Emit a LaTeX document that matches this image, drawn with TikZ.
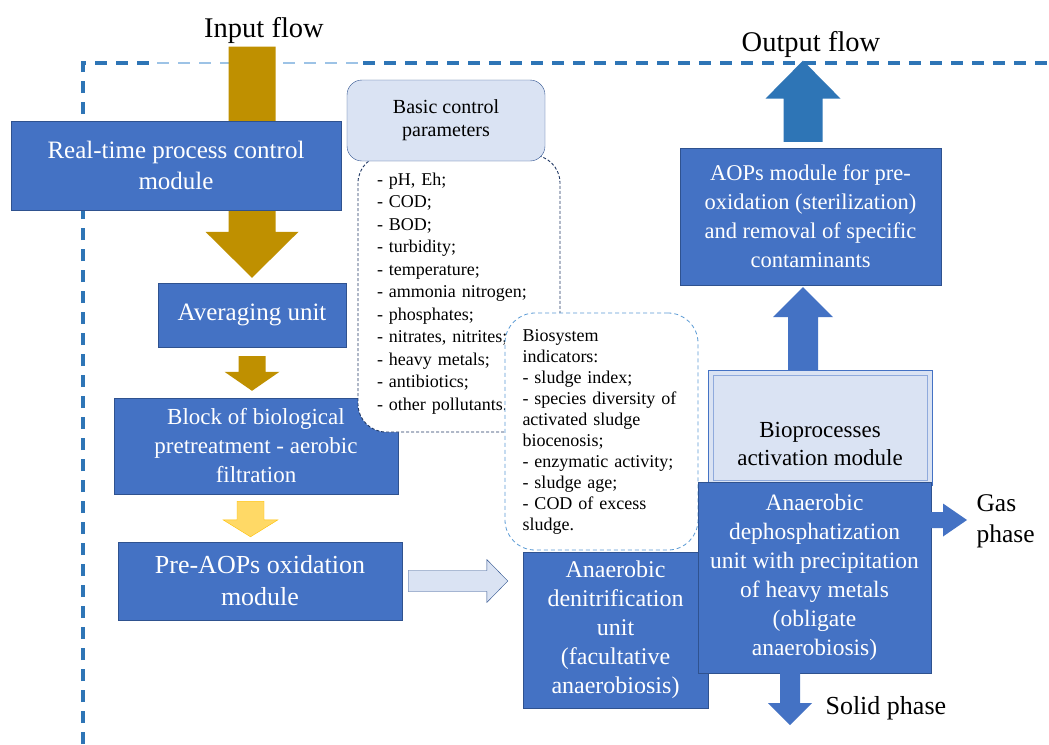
\documentclass[tikz,border=0pt]{standalone}
\usepackage{fontspec}
\setmainfont{Liberation Serif}
\usetikzlibrary{positioning,calc}
\definecolor{boxblue}{HTML}{4472C4}
\definecolor{boxedge}{HTML}{2F528F}
\definecolor{paleblue}{HTML}{DAE3F3}
\definecolor{innerbl}{HTML}{8FAADC}
\definecolor{gold}{HTML}{BF9000}
\definecolor{lightgold}{HTML}{FFD966}
\definecolor{goldedge}{HTML}{FFC000}
\definecolor{outblue}{HTML}{2E75B6}
\definecolor{framelt}{HTML}{9DC3E6}
\definecolor{navy}{HTML}{203864}
\definecolor{skyedge}{HTML}{5B9BD5}
\newcommand{\fs}[2]{\fontsize{#1}{#2}\selectfont}
\tikzset{blk/.style={draw=boxedge, fill=boxblue, text=white, align=center, inner sep=2pt}}
\tikzset{pbox/.style={draw=boxedge, fill=paleblue, align=center, rounded corners=15pt}}
\tikzset{lstbox/.style={draw=navy, line width=0.9pt, densely dashed, fill=white, rounded corners=28pt, align=left}}
\tikzset{indbox/.style={draw=skyedge, line width=0.8pt, dash pattern=on 4pt off 3pt, fill=white, rounded corners=30pt, align=left}}
\tikzset{frm/.style={draw=outblue, line width=3.2pt, dash pattern=on 12pt off 9pt}}
\tikzset{fat/.style n args={3}{to path={
  -- ($(\tikztostart)!#1!90:(\tikztotarget)$)
  -- ($($(\tikztotarget)!#3!(\tikztostart)$)!#1!90:(\tikztotarget)$)
  -- ($($(\tikztotarget)!#3!(\tikztostart)$)!#2!90:(\tikztotarget)$)
  -- (\tikztotarget)
  -- ($($(\tikztotarget)!#3!(\tikztostart)$)!#2!-90:(\tikztotarget)$)
  -- ($($(\tikztotarget)!#3!(\tikztostart)$)!#1!-90:(\tikztotarget)$)
  -- ($(\tikztostart)!#1!-90:(\tikztotarget)$)
  -- cycle}}}

\begin{document}
\begin{tikzpicture}[x=1pt,y=-1pt]
	\useasboundingbox[fill=white] (0,0) rectangle (1049,744);
	\draw[frm] (83,744) -- (83,63) -- (157,63);
	\draw[frm, draw=framelt, line width=1.6pt] (157,63) -- (363,63);
	\draw[frm] (363,63) -- (1049,63);
	\node[font=\fs{28.5}{34}] (inflow) at (264,30) {Input flow};
	\node[font=\fs{28.5}{34}] (outflow) at (811,44) {Output flow};
	% left column
	\node[blk, font=\fs{25}{31}, minimum width=188pt, minimum height=64pt] (avg) at (252,315) {Averaging unit};
	\fill[gold] (inflow.south -| avg.north) to[fat={23.5pt}{46.5pt}{46pt}] ($(avg.north)+(0,-5)$);
	\node[blk, font=\fs{25}{31}, minimum width=330pt, minimum height=89pt] (rt) at (176,165.5) {Real-time process control\\module};
	\node[blk, font=\fs{23}{29}, minimum width=284pt, minimum height=96pt] (bio) at (256,446) {Block of biological\\pretreatment - aerobic\\filtration};
	\fill[gold] ($(avg.south)+(0,9)$) to[fat={13.5pt}{27.5pt}{19pt}] ($(avg.south |- bio.north)+(0,-7)$);
	\node[blk, font=\fs{26}{32}, minimum width=284pt, minimum height=78pt] (pre) at (260,581) {Pre-AOPs oxidation\\module};
	\filldraw[fill=lightgold, draw=goldedge] ($(bio.south)+(-5.5,7)$) to[fat={13.5pt}{27.5pt}{17pt}] ($(pre.north)+(-9.5,-5)$);
	% control parameters
	\node[lstbox, font=\fs{18}{22.5}, text width=164pt, inner xsep=19pt, minimum height=277pt] (plist) at (459,293.5)
		{- pH, Eh;\\- COD;\\- BOD;\\- turbidity;\\- temperature;\\- ammonia nitrogen;\\- phosphates;\\- nitrates, nitrites;\\- heavy metals;\\- antibiotics;\\- other pollutants.};
	\node[pbox, font=\fs{20}{23}, minimum width=198pt, minimum height=81pt] (hdr) at (446,120.5) {Basic control\\parameters};
	\node[indbox, font=\fs{18}{21}, text width=158pt, inner xsep=17.5pt, minimum height=237pt] (bioind) at (601.5,431.5)
		{Biosystem\\indicators:\\- sludge index;\\- species diversity of\\activated sludge\\biocenosis;\\- enzymatic activity;\\- sludge age;\\- COD of excess\\sludge.};
	% right part
	\node[blk, font=\fs{24}{29}, minimum width=185pt, minimum height=156pt] (denit) at (615.5,630) {Anaerobic\\denitrification\\unit\\(facultative\\anaerobiosis)};
	\filldraw[fill=paleblue, draw=boxedge] ($(pre.east)+(6,0)$) to[fat={10.5pt}{21.5pt}{21pt}] ($(denit.west |- pre.east)+(-15,0)$);
	\node[blk, font=\fs{22.5}{29}, minimum width=261pt, minimum height=137pt] (aops) at (810.5,216.5) {AOPs module for pre-\\oxidation (sterilization)\\and removal of specific\\contaminants};
	\node[draw=boxblue, fill=paleblue, minimum width=224pt, minimum height=115pt,
		label={[name=bioacttxt, font=\fs{23}{28}, align=center, yshift=-16pt]center:Bioprocesses\\activation module}] (bioact) at (820,427.5) {};
	\draw[innerbl] ($(bioact.north west)+(5,5)$) rectangle ($(bioact.south east)+(-5,-5)$);
	\node[blk, font=\fs{23.5}{29}, minimum width=233pt, minimum height=191pt] (dephos) at (814.5,577.5) {Anaerobic\\dephosphatization\\unit with precipitation\\of heavy metals\\(obligate\\anaerobiosis)};
	\fill[boxblue] ($(aops.south |- bioact.north)+(-7.5,0)$) to[fat={15pt}{30pt}{30pt}] ($(aops.south)+(-7.5,2)$);
	\fill[outblue] ($(aops.north)+(-7.5,-6)$) to[fat={19.5pt}{37.5pt}{38pt}] ($(aops.north |- outflow.south)+(-7.5,0)$);
	\node[font=\fs{25.5}{31}, align=left, anchor=west] (gas) at (973,521) {Gas\\phase};
	\fill[boxblue] ($(dephos.east)+(-6,-57.5)$) to[fat={8pt}{16.5pt}{24pt}] ($(gas.west)+(-6,-1)$);
	\node[font=\fs{26}{31}, anchor=west] (solid) at (822,708) {Solid phase};
	\fill[boxblue] ($(dephos.south)+(-24.5,0)$) to[fat={10pt}{22pt}{22pt}] ($(dephos.south)+(-24.5,52)$);
\end{tikzpicture}
\end{document}
